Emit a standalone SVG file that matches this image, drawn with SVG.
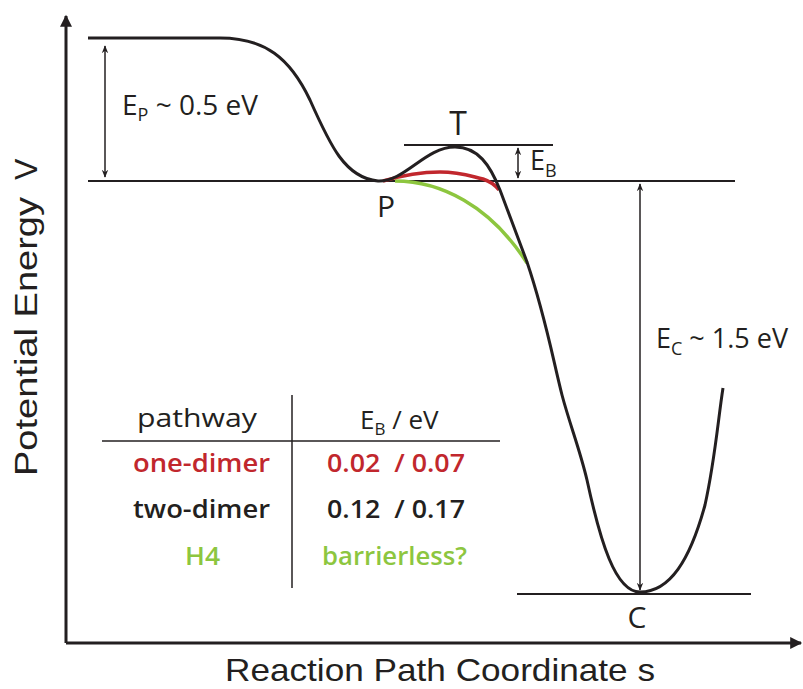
<svg xmlns="http://www.w3.org/2000/svg" width="803" height="689" viewBox="0 0 803 689">
<defs>
<marker id="ah" viewBox="0 0 10 10" refX="9" refY="5" markerWidth="8" markerHeight="8" markerUnits="userSpaceOnUse" orient="auto"><path d="M0,1 L10,5 L0,9 L3,5 Z" fill="#231f20"/></marker>
<marker id="axh" viewBox="0 0 10 10" refX="9" refY="5" markerWidth="14" markerHeight="12" markerUnits="userSpaceOnUse" orient="auto"><path d="M0,0 L10,5 L0,10 Z" fill="#231f20"/></marker>
</defs>
<style>
.ln{stroke:#231f20;fill:none}
.lbl{font-family:"Open Sans","Liberation Sans",sans-serif;fill:#231f20}
.ax{font-family:"Liberation Sans",Arial,sans-serif;fill:#231f20;font-size:32px}
.tb{font-family:"Open Sans","Liberation Sans",sans-serif;font-size:26px}
.sb{font-weight:600}
</style>
<rect width="803" height="689" fill="#fff"/>
<g id="axes">
<line class="ln" x1="66" y1="643" x2="66" y2="16" stroke-width="3" marker-end="url(#axh)"/>
<line class="ln" x1="66" y1="643" x2="801" y2="643" stroke-width="3" marker-end="url(#axh)"/>
<text class="ax" transform="translate(37,476) rotate(-90)"><tspan textLength="279" lengthAdjust="spacingAndGlyphs">Potential Energy</tspan><tspan x="296">V</tspan></text>
<text class="ax" x="225" y="681" textLength="430" lengthAdjust="spacingAndGlyphs">Reaction Path Coordinate s</text>
</g>
<g id="levels">
<line class="ln" x1="88" y1="181" x2="735" y2="181" stroke-width="2"/>
<line class="ln" x1="404" y1="145" x2="553" y2="145" stroke-width="2"/>
<line class="ln" x1="517" y1="594" x2="751" y2="594" stroke-width="2"/>
</g>
<g id="curves">
<path d="M395,181 C440,181 490,205 527,263" fill="none" stroke="#8dc63f" stroke-width="3.5"/>
<path d="M383,181 C400,176 420,172 440,172 C460,172 470,176 483,179 C492,182 496,186 499,190" fill="none" stroke="#c1272d" stroke-width="3.5"/>
<path class="ln" stroke-width="3" d="M88,38 L220,38 C265,38 290,58 310,100 C330,145 345,178 378,181 C405,182 425,147 455,147 C478,147 490,165 500,190 L527,262 C545,315 552,355 562,395 C570,425 580,450 587,480 C600,540 615,592 640,592 C670,592 690,560 705,505 C715,460 718,420 723,388"/>
</g>
<g id="arrows">
<line class="ln" x1="105" y1="110" x2="105" y2="46" stroke-width="1.5" marker-end="url(#ah)"/>
<line class="ln" x1="105" y1="110" x2="105" y2="177" stroke-width="1.5" marker-end="url(#ah)"/>
<line class="ln" x1="518" y1="162" x2="518" y2="148" stroke-width="1.5" marker-end="url(#ah)"/>
<line class="ln" x1="518" y1="162" x2="518" y2="178" stroke-width="1.5" marker-end="url(#ah)"/>
<line class="ln" x1="640" y1="380" x2="640" y2="184" stroke-width="1.5" marker-end="url(#ah)"/>
<line class="ln" x1="640" y1="380" x2="640" y2="590" stroke-width="1.5" marker-end="url(#ah)"/>
</g>
<g id="labels">
<text class="lbl" x="122" y="115" font-size="28">E<tspan font-size="18" dy="6">P</tspan><tspan dy="-6"> ~ 0.5 eV</tspan></text>
<text class="lbl" x="458" y="135" font-size="32" text-anchor="middle">T</text>
<text class="lbl" x="386" y="217" font-size="30" text-anchor="middle">P</text>
<text class="lbl" x="637" y="628" font-size="30" text-anchor="middle">C</text>
<text class="lbl" x="530" y="170" font-size="27">E<tspan font-size="18" dy="7">B</tspan></text>
<text class="lbl" x="656" y="348" font-size="27">E<tspan font-size="18" dy="7">C</tspan><tspan dy="-7"> ~ 1.5 eV</tspan></text>
</g>
<g id="table">
<line class="ln" x1="292" y1="395" x2="292" y2="588" stroke-width="1.5"/>
<line class="ln" x1="102" y1="441" x2="500" y2="441" stroke-width="1.5"/>
<text class="tb" x="137" y="427" fill="#231f20" textLength="120" lengthAdjust="spacingAndGlyphs">pathway</text>
<text class="tb" x="360" y="429" fill="#231f20">E<tspan font-size="17" dy="6">B</tspan><tspan dy="-6"> / eV</tspan></text>
<text class="tb sb" x="133" y="472" fill="#c1272d" textLength="137" lengthAdjust="spacingAndGlyphs">one-dimer</text>
<text class="tb sb" x="327" y="472" fill="#c1272d" xml:space="preserve" textLength="138" lengthAdjust="spacingAndGlyphs">0.02  / 0.07</text>
<text class="tb sb" x="133" y="518" fill="#231f20" textLength="137" lengthAdjust="spacingAndGlyphs">two-dimer</text>
<text class="tb sb" x="327" y="518" fill="#231f20" xml:space="preserve" textLength="138" lengthAdjust="spacingAndGlyphs">0.12  / 0.17</text>
<text class="tb sb" x="185" y="565" fill="#8dc63f" textLength="35" lengthAdjust="spacingAndGlyphs">H4</text>
<text class="tb sb" x="322" y="565" fill="#8dc63f" textLength="145" lengthAdjust="spacingAndGlyphs">barrierless?</text>
</g>
</svg>
